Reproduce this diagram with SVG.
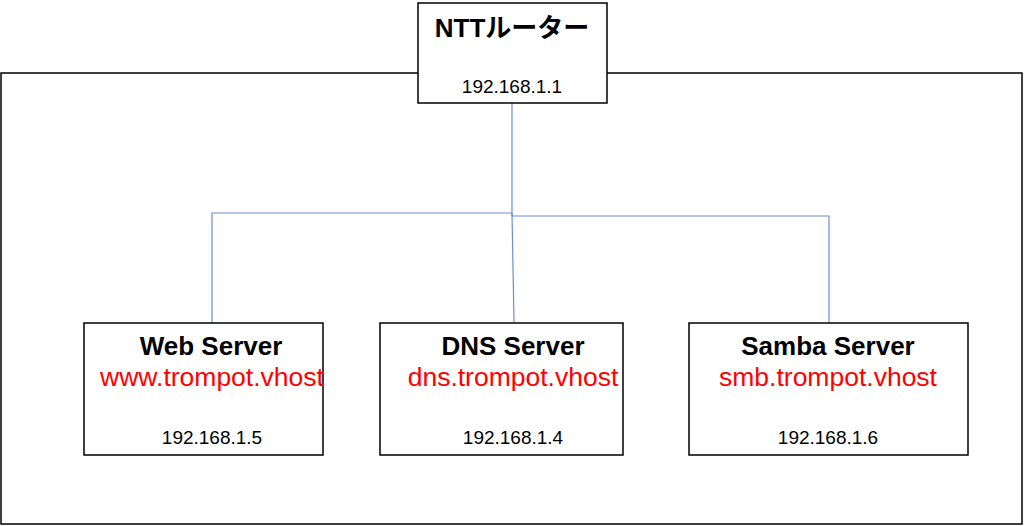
<svg xmlns="http://www.w3.org/2000/svg" width="1024" height="526" viewBox="0 0 1024 526">
<style>
.box{fill:#fff;stroke:#000;stroke-width:1.5}
.t{font-family:"Liberation Sans","Noto Sans CJK JP",sans-serif;text-anchor:middle}
.b{font-weight:bold;font-size:26px}
.r{fill:#ff0000;font-size:26.5px}
.s{font-size:19px}
.c{fill:none;stroke:#6d8fd0;stroke-width:1.2}
</style>
<rect x="1" y="73" width="1021" height="451" fill="#fff" stroke="#000" stroke-width="1.5"/>
<g id="connectors">
<polyline class="c" points="512,103 512,213 212,213 212,323"/>
<polyline class="c" points="512,213 514,322"/>
<polyline class="c" points="512,213 512,216 829,216 829,323"/>
</g>
<g id="router">
<rect class="box" x="418" y="3" width="189" height="100"/>
<text class="t b" x="512" y="37">NTTルーター</text>
<text class="t s" x="512" y="93">192.168.1.1</text>
</g>
<g id="web">
<rect class="box" x="84" y="323" width="239" height="132"/>
<text class="t b" x="211" y="355">Web Server</text>
<text class="t r" x="212" y="386">www.trompot.vhost</text>
<text class="t s" x="212" y="444">192.168.1.5</text>
</g>
<g id="dns">
<rect class="box" x="380" y="323" width="243" height="132"/>
<text class="t b" x="513" y="355">DNS Server</text>
<text class="t r" x="513" y="386">dns.trompot.vhost</text>
<text class="t s" x="513" y="444">192.168.1.4</text>
</g>
<g id="samba">
<rect class="box" x="689" y="323" width="279" height="132"/>
<text class="t b" x="828" y="355">Samba Server</text>
<text class="t r" x="828" y="386">smb.trompot.vhost</text>
<text class="t s" x="828" y="444">192.168.1.6</text>
</g>
</svg>
